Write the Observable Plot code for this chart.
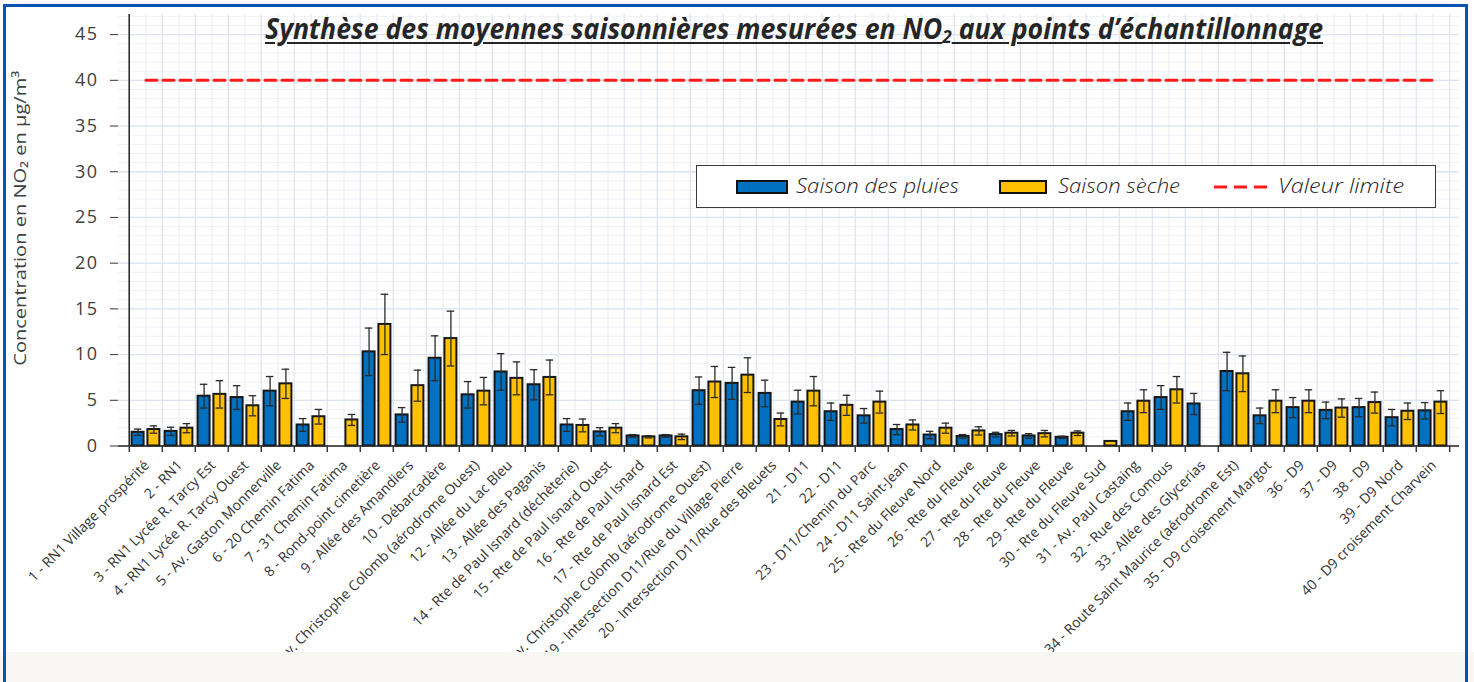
<!DOCTYPE html>
<html><head><meta charset="utf-8">
<script src="https://cdn.jsdelivr.net/npm/d3@7"></script>
<script src="https://cdn.jsdelivr.net/npm/@observablehq/plot@0.6"></script>
<style>
html,body{margin:0;padding:0;background:#fff;}
#wrap{position:relative;width:1474px;height:682px;overflow:hidden;font-family:"Open Sans",sans-serif;}
#chart{position:absolute;left:0;top:0;}
#bottom{position:absolute;left:0;top:652px;width:1474px;height:30px;background:#f8f7f3;}
#frame{position:absolute;left:3px;top:4px;width:1465px;height:700px;border:3px solid #0a52b5;border-bottom:none;box-sizing:border-box;pointer-events:none;}
#title{position:absolute;left:265px;top:14px;font-size:28px;line-height:28px;font-weight:700;font-style:italic;color:#262626;white-space:nowrap;text-decoration:underline;text-decoration-thickness:2px;text-underline-offset:3px;display:inline-block;transform-origin:left center;}
#title sub{font-size:18px;line-height:0;vertical-align:-4px;}
#legend{position:absolute;left:696px;top:165px;width:740px;height:43px;border:1.5px solid #3a3a3a;background:#fff;box-sizing:border-box;}
#legend .sw{position:absolute;top:14px;height:14px;box-sizing:border-box;border:2px solid #111;}
#legend .tx{position:absolute;top:10px;font-size:20px;line-height:20px;font-style:italic;font-weight:300;color:#222;white-space:nowrap;display:inline-block;transform-origin:left center;}
#legend svg{position:absolute;}
</style>
</head><body>
<div id="wrap">
  <div id="chart"></div>
  <div id="bottom"></div>
  <div id="title"></div>
  <div id="legend"></div>
  <div id="frame"></div>
</div>
<script>
// ---- DATA ----
const stations = [
  "1 - RN1 Village prospérité",
  "2 - RN1",
  "3 - RN1 Lycée R. Tarcy Est",
  "4 - RN1 Lycée R. Tarcy Ouest",
  "5 - Av. Gaston Monnerville",
  "6 - 20 Chemin Fatima",
  "7 - 31 Chemin Fatima",
  "8 - Rond-point cimetière",
  "9 - Allée des Amandiers",
  "10 - Débarcadère",
  "11 - Av. Christophe Colomb (aérodrome Ouest)",
  "12 - Allée du Lac Bleu",
  "13 - Allée des Paganis",
  "14 - Rte de Paul Isnard (déchèterie)",
  "15 - Rte de Paul Isnard Ouest",
  "16 - Rte de Paul Isnard",
  "17 - Rte de Paul Isnard Est",
  "18 - Av. Christophe Colomb (aérodrome Ouest)",
  "19 - Intersection D11/Rue du Village Pierre",
  "20 - Intersection D11/Rue des Bleuets",
  "21 - D11",
  "22 - D11",
  "23 - D11/Chemin du Parc",
  "24 - D11 Saint-Jean",
  "25 - Rte du Fleuve Nord",
  "26 - Rte du Fleuve",
  "27 - Rte du Fleuve",
  "28 - Rte du Fleuve",
  "29 - Rte du Fleuve",
  "30 - Rte du Fleuve Sud",
  "31 - Av. Paul Castaing",
  "32 - Rue des Comous",
  "33 - Allée des Glycerias",
  "34 - Route Saint Maurice (aérodrome Est)",
  "35 - D9 croisement Margot",
  "36 - D9",
  "37 - D9",
  "38 - D9",
  "39 - D9 Nord",
  "40 - D9 croisement Charvein"
];
const rain    = [1.5,1.6,5.45,5.3,6.0,2.3,null,10.3,3.4,9.6,5.6,8.1,6.7,2.3,1.55,1.1,1.1,6.05,6.85,5.75,4.8,3.75,3.3,1.8,1.2,1.05,1.25,1.1,0.95,null,3.75,5.3,4.6,8.15,3.3,4.2,3.9,4.2,3.1,3.85];
const rainErr = [0.35,0.45,1.3,1.3,1.6,0.7,null,2.6,0.8,2.45,1.45,2.0,1.65,0.7,0.45,0.15,0.15,1.5,1.75,1.45,1.3,0.95,0.8,0.55,0.4,0.2,0.25,0.25,0.12,null,0.95,1.3,1.15,2.1,0.85,1.1,0.9,1.0,0.9,0.9];
const dry     = [1.8,1.95,5.65,4.4,6.8,3.2,2.85,13.3,6.6,11.75,6.0,7.4,7.5,2.25,1.95,1.0,1.0,7.0,7.75,2.9,6.0,4.45,4.8,2.3,1.95,1.65,1.4,1.35,1.4,0.5,4.9,6.15,null,7.9,4.9,4.9,4.15,4.75,3.8,4.8];
const dryErr  = [0.4,0.5,1.5,1.1,1.6,0.8,0.6,3.3,1.7,3.0,1.5,1.8,1.9,0.7,0.5,0.12,0.3,1.7,1.9,0.7,1.6,1.1,1.2,0.55,0.55,0.45,0.3,0.35,0.25,null,1.25,1.45,null,1.95,1.25,1.25,1.0,1.15,0.9,1.25];
const limitValue = 40;
const yTicks = [0,5,10,15,20,25,30,35,40,45];
const seriesNames = ["Saison des pluies","Saison sèche","Valeur limite"];
const yLabel = "Concentration en NO₂ en µg/m³";

// ---- LAYOUT ----
const W = 1474, H = 652;
const mL = 118, mR = 15, mT = 14, mB = H - 445.5;
const yMax = 47.2;
const bw = (W - mL - mR) / stations.length;
const edge = 2.6, gapHalf = 1.65;
const barW = bw / 2 - gapHalf - edge;
const cBlue = edge + barW / 2 - bw / 2;
const cYel = -cBlue;
const capHalf = 4;

const rows = stations.map((s, i) => ({station: s, rain: rain[i], rainErr: rainErr[i], dry: dry[i], dryErr: dryErr[i]}));
const rainRows = rows.filter(d => d.rain != null);
const dryRows = rows.filter(d => d.dry != null);
const rainErrRows = rows.filter(d => d.rain != null && d.rainErr != null);
const dryErrRows = rows.filter(d => d.dry != null && d.dryErr != null);
const rainCaps = rainErrRows.flatMap(d => [{station: d.station, v: d.rain - d.rainErr}, {station: d.station, v: d.rain + d.rainErr}]);
const dryCaps = dryErrRows.flatMap(d => [{station: d.station, v: d.dry - d.dryErr}, {station: d.station, v: d.dry + d.dryErr}]);

const BLUE = "#0070C0", YEL = "#FFC000", OUT = "#161616", ERR = "#2a2a2a";
const first = stations[0], last = stations[stations.length - 1];

const chart = Plot.plot({
  width: W, height: H,
  marginLeft: mL, marginRight: mR, marginTop: mT, marginBottom: mB,
  style: {fontFamily: '"Open Sans", sans-serif', fontSize: "14px", color: "#333", background: "transparent", overflow: "hidden"},
  x: {domain: stations, padding: 0, axis: null},
  y: {domain: [0, yMax], ticks: yTicks, tickSize: 8, tickPadding: 12, label: null},
  marks: [
    Plot.ruleY(d3.range(0, Math.floor(yMax) + 1), {stroke: "#eef1f8", strokeWidth: 1}),
    Plot.ruleX(stations, {x: d => d, stroke: "#e7ebf5", strokeWidth: 1}),
    Plot.ruleX(stations, {x: d => d, dx: -bw / 2, stroke: "#dde3f0", strokeWidth: 1.2}),
    Plot.ruleX([last], {x: d => d, dx: bw / 2, stroke: "#dde3f0", strokeWidth: 1.2}),
    Plot.ruleY(yTicks.filter(v => v > 0), {stroke: "#dde3f0", strokeWidth: 1.3}),
    Plot.barY(rainRows, {x: "station", y: "rain", fill: BLUE, stroke: OUT, strokeWidth: 2,
      insetLeft: edge, insetRight: bw - edge - barW}),
    Plot.barY(dryRows, {x: "station", y: "dry", fill: YEL, stroke: OUT, strokeWidth: 2,
      insetLeft: bw - edge - barW, insetRight: edge}),
    Plot.ruleX(rainErrRows, {x: "station", y1: d => d.rain - d.rainErr, y2: d => d.rain + d.rainErr, dx: cBlue, stroke: ERR, strokeWidth: 1.3}),
    Plot.ruleX(dryErrRows, {x: "station", y1: d => d.dry - d.dryErr, y2: d => d.dry + d.dryErr, dx: cYel, stroke: ERR, strokeWidth: 1.3}),
    Plot.tickY(rainCaps, {x: "station", y: "v", stroke: ERR, strokeWidth: 1.3,
      insetLeft: bw / 2 + cBlue - capHalf, insetRight: bw / 2 - cBlue - capHalf}),
    Plot.tickY(dryCaps, {x: "station", y: "v", stroke: ERR, strokeWidth: 1.3,
      insetLeft: bw / 2 + cYel - capHalf, insetRight: bw / 2 - cYel - capHalf}),
    Plot.lineY(stations, {x: d => d, y: () => limitValue, stroke: "#ff1a1a", strokeWidth: 3, strokeDasharray: "11,6"}),
    Plot.ruleY([0], {stroke: "#222", strokeWidth: 1.5}),
    Plot.ruleX([first], {x: d => d, y1: 0, y2: yMax, dx: -bw / 2, stroke: "#222", strokeWidth: 1.5}),
    Plot.ruleX(stations, {x: d => d, y1: 0, y2: -0.7, dx: -bw / 2, stroke: "#222", strokeWidth: 1.3}),
    Plot.ruleX([last], {x: d => d, y1: 0, y2: -0.7, dx: bw / 2, stroke: "#222", strokeWidth: 1.3}),
    // x tick labels
    Plot.text(stations, {x: d => d, text: d => d, frameAnchor: "bottom", rotate: -45, textAnchor: "end", lineAnchor: "middle",
      dx: 1, dy: 17, fontSize: 14, fill: "#333"}),
    Plot.text([yLabel], {text: d => d, frameAnchor: "left", rotate: -90, textAnchor: "middle", dx: -98, dy: -12, fontSize: 17, fill: "#404040"})
  ]
});
document.getElementById("chart").appendChild(chart);

// axis text styling
const svg = d3.select(chart);
svg.selectAll('g[aria-label*="y-axis"] text').style("font-size", "18px").style("letter-spacing", "1.5px").attr("fill", "#404040");
svg.selectAll("text").filter(function() { return this.textContent === yLabel; })
  .attr("textLength", 295).attr("lengthAdjust", "spacingAndGlyphs");

function fit(el, w) {
  const r = el.getBoundingClientRect().width;
  if (r > 0) el.style.transform = `scaleX(${w / r})`;
}

// Title
const title = document.getElementById("title");
title.innerHTML = "Synthèse des moyennes saisonnières mesurées en NO<sub>2</sub> aux points d’échantillonnage";
fit(title, 1058);

// Legend
const legend = document.getElementById("legend");
function addSwatch(left, width, color) {
  const s = document.createElement("div");
  s.className = "sw"; s.style.left = left + "px"; s.style.width = width + "px"; s.style.background = color;
  legend.appendChild(s);
}
function addText(left, width, txt) {
  const t = document.createElement("span");
  t.className = "tx"; t.style.left = left + "px"; t.textContent = txt;
  legend.appendChild(t);
  fit(t, width);
}
addSwatch(39, 52, BLUE);
addText(99, 163, seriesNames[0]);
addSwatch(302, 48, YEL);
addText(361, 122, seriesNames[1]);
const ls = d3.create("svg").attr("width", 60).attr("height", 10).style("left", "517px").style("top", "16px");
ls.append("line").attr("x1", 0).attr("x2", 58).attr("y1", 5).attr("y2", 5)
  .attr("stroke", "#ff1a1a").attr("stroke-width", 3).attr("stroke-dasharray", "13,7");
legend.appendChild(ls.node());
addText(581, 126, seriesNames[2]);
</script>
</body></html>
